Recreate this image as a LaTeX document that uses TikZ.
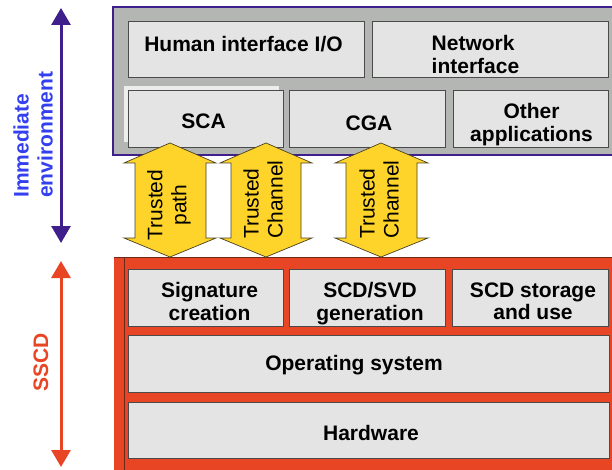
\documentclass[tikz,border=0pt]{standalone}
\usepackage{fontspec}
\setmainfont{Liberation Sans}
\usetikzlibrary{arrows.meta}

\definecolor{boxfill}{HTML}{E4E4E4}
\definecolor{boxline}{HTML}{4A4A4A}
\definecolor{framegray}{HTML}{B4B6B4}
\definecolor{envpurple}{HTML}{3F1F8C}
\definecolor{envblue}{HTML}{3440F0}
\definecolor{sscdred}{HTML}{E84524}
\definecolor{sscdedge}{HTML}{6E2A18}
\definecolor{trustyellow}{HTML}{FFD42A}
\definecolor{trustedge}{HTML}{4A4020}

\tikzset{
  layerbox/.style={draw=boxline, line width=0.9pt, fill=boxfill, inner sep=0pt},
  boxtext/.style={inner sep=0pt, align=center, font=\bfseries\fontsize{21}{22.7}\selectfont},
  trusttext/.style={inner sep=0pt, rotate=90, font=\fontsize{21}{24}\selectfont},
  sidetext/.style={inner sep=0pt, rotate=90, font=\bfseries\fontsize{21}{24}\selectfont},
  trustarrow/.style={draw=trustedge, line width=0.7pt, fill=trustyellow, line join=miter},
  sidearrow/.style={line width=3pt, {Triangle[width=19pt,length=17pt]}-{Triangle[width=19pt,length=17pt]}},
}

\begin{document}
\begin{tikzpicture}[x=1pt,y=-1pt]
\useasboundingbox (0,0) rectangle (612,470);

% ---------- immediate environment frame ----------
\draw[fill=framegray, draw=envpurple, line width=2.5pt] (113,7) rectangle (620,155);
\node[layerbox, minimum width=236pt, minimum height=56pt,
  label={[boxtext, xshift=-2.5pt, yshift=4.8pt]center:Human interface I/O}] (hio) at (246,49) {};
\node[layerbox, minimum width=236pt, minimum height=56pt,
  label={[boxtext, align=left, xshift=-14.5pt, yshift=-5.7pt]center:{Network\\interface}}] (net) at (490,49) {};
\fill[white!93!black] (124,86) rectangle (279,142);
\node[layerbox, minimum width=155pt, minimum height=57pt,
  label={[boxtext, xshift=-2pt, yshift=-2.3pt]center:SCA}] (sca) at (205.5,118.5) {};
\node[layerbox, minimum width=156pt, minimum height=57pt,
  label={[boxtext, xshift=2pt, yshift=-4.5pt]center:CGA}] (cga) at (367,118.5) {};
\node[layerbox, minimum width=155pt, minimum height=57pt,
  label={[boxtext, xshift=1pt, yshift=-6.2pt]center:{Other\\applications}}] (oth) at (530.5,118.5) {};

% ---------- SSCD frame ----------
\fill[sscdred] (114,257) rectangle (620,480);
\draw[sscdedge, line width=0.8pt] (114,257) -- (620,257);
\draw[sscdedge, line width=0.8pt] (124,257) -- (124,480);
\node[layerbox, minimum width=155pt, minimum height=57pt,
  label={[boxtext, xshift=4pt, yshift=-4.2pt]center:{Signature\\creation}}] (sig) at (205.5,297.5) {};
\node[layerbox, minimum width=156pt, minimum height=57pt,
  label={[boxtext, xshift=3pt, yshift=-6pt]center:{SCD/SVD\\generation}}] (gen) at (367,297.5) {};
\node[layerbox, minimum width=156pt, minimum height=57pt,
  label={[boxtext, xshift=3pt, yshift=-3.8pt]center:{SCD storage\\and use}}] (sto) at (530,297.5) {};
\node[layerbox, minimum width=481pt, minimum height=57pt,
  label={[boxtext, xshift=-14.5pt, yshift=-1.2pt]center:Operating system}] (os) at (368.5,363.5) {};
\node[layerbox, minimum width=481pt, minimum height=56pt,
  label={[boxtext, xshift=2.5pt, yshift=-2.5pt]center:Hardware}] (hw) at (368.5,430) {};

% ---------- trusted path / channels ----------
\draw[trustarrow] (170,143) -- (216,163) -- (206,163) -- (206,238) -- (216,238) -- (170,257)
  -- (124,238) -- (135,238) -- (135,163) -- (124,163) -- cycle;
\draw[trustarrow] (266,143) -- (312,163) -- (301,163) -- (301,238) -- (312,238) -- (266,257)
  -- (220,238) -- (231,238) -- (231,163) -- (220,163) -- cycle;
\draw[trustarrow] (381,143) -- (428,163) -- (417,163) -- (417,238) -- (428,238) -- (381,257)
  -- (335,238) -- (346,238) -- (346,163) -- (335,163) -- cycle;
\node[trusttext, align=center] (tp) at (169,205) {Trusted\\path};
\node[trusttext, align=left, anchor=west] (tc1) at (263,239) {Trusted\\Channel};
\node[trusttext, align=left, anchor=west] (tc2) at (379,239) {Trusted\\Channel};

% ---------- side extents ----------
\coordinate (envtop) at (61,8);
\coordinate (envbot) at (61,243);
\draw[sidearrow, envpurple] (envtop) -- (envbot);
\node[sidetext, text=envblue, align=left, anchor=west] (envlbl) at (33,198) {Immediate\\environment};

\coordinate (sscdtop) at (61,261);
\coordinate (sscdbot) at (61,467);
\draw[sidearrow, sscdred] (sscdtop) -- (sscdbot);
\node[sidetext, text=sscdred] (sscdlbl) at (41,362.5) {SSCD};
\end{tikzpicture}
\end{document}
